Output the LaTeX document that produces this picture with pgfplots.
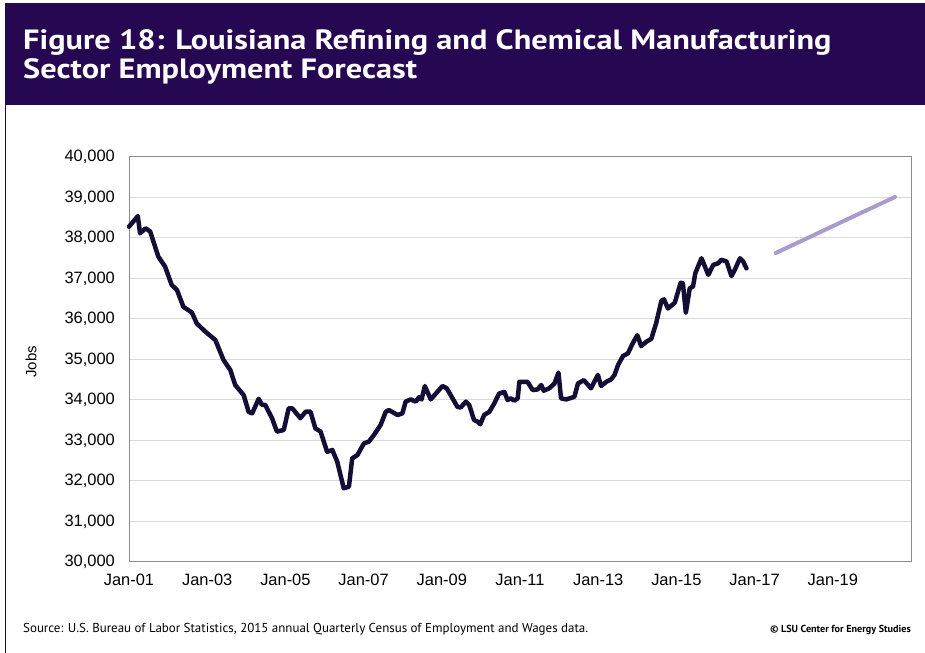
\documentclass[border=0pt]{standalone}
\usepackage{pgfplots}
\pgfplotsset{compat=1.18}
\usepackage{fontspec}
\setmainfont{Liberation Sans}
\newfontfamily\titlefont{PT Sans}
\definecolor{banner}{HTML}{250752}
\definecolor{lineC}{HTML}{140E36}
\definecolor{fcC}{HTML}{A99BCB}
\definecolor{axC}{HTML}{8C8C8C}
\definecolor{gridC}{HTML}{D9D9D9}
\begin{document}
\begin{tikzpicture}
\path[use as bounding box] (0,0) rectangle (925bp,653bp);
\fill[white] (0,0) rectangle (925bp,653bp);
\fill[banner] (5bp,653bp-105bp) rectangle (925bp,653bp-3bp);
\draw[banner,line width=1.2bp] (5.6bp,0) -- (5.6bp,653bp-3bp);
\node[anchor=base west,inner sep=0pt,text=white,font=\titlefont\bfseries\fontsize{28}{30}\selectfont] at (23bp,653bp-50bp) {\scalebox{1.16}[1]{Figure 18: Louisiana Refining and Chemical Manufacturing}};
\node[anchor=base west,inner sep=0pt,text=white,font=\titlefont\bfseries\fontsize{28}{30}\selectfont] at (23bp,653bp-79bp) {\scalebox{1.16}[1]{Sector Employment Forecast}};
\begin{axis}[
  at={(129bp,91bp)}, anchor=south west,
  width=782bp, height=405bp, scale only axis,
  xmin=0, xmax=240, ymin=30000, ymax=40000,
  ytick={30000,31000,...,40000},
  xtick={0,24,...,216},
  xticklabels={Jan-01,Jan-03,Jan-05,Jan-07,Jan-09,Jan-11,Jan-13,Jan-15,Jan-17,Jan-19},
  scaled y ticks=false,
  /pgf/number format/.cd, 1000 sep={,}, assume math mode=true,
  /pgfplots/.cd,
  major tick length=0pt,
  axis line style={axC, line width=1bp},
  ymajorgrids, grid style={gridC, line width=1bp},
  yticklabel style={font=\fontsize{16.5}{18}\selectfont, inner sep=0pt, xshift=-14bp},
  xticklabel style={font=\fontsize{16.5}{18}\selectfont, inner sep=0pt, yshift=-12bp},
  clip=false,
]
\addplot[lineC, line width=4.5bp, line join=round, line cap=round] coordinates {
(0,38280) (2.7,38540) (3.4,38115) (5.1,38240) (6.5,38160) (9.0,37540) (11.1,37290)
(13.1,36840) (14.7,36720) (16.7,36300) (19.3,36160) (20.8,35890) (23.4,35690)
(26.5,35480) (29.0,34990) (31.1,34740) (32.6,34370) (35.2,34120) (36.7,33710)
(37.8,33670) (39.8,34030) (40.8,33880) (41.8,33880) (43.9,33550) (45.4,33220)
(47.5,33260) (49.0,33795) (50.1,33795) (52.6,33550) (54.2,33710) (55.7,33710)
(57.2,33300) (58.8,33220) (60.8,32720) (62.4,32765) (63.9,32480) (65.9,31820)
(67.5,31860) (68.5,32560) (70.1,32640) (72.1,32930) (73.6,32970) (75.2,33140)
(77.2,33380) (78.8,33710) (79.8,33750) (82.4,33630) (83.9,33670) (84.9,33960)
(86.5,34015) (88.0,33960) (89.0,34070) (89.8,34015) (90.8,34345) (92.6,34015)
(94.2,34160) (96.2,34345) (97.5,34290) (99.3,34040) (100.8,33830) (101.8,33815)
(103.4,33960) (104.4,33880) (105.9,33505) (107.0,33465) (107.8,33400) (109.0,33630)
(110.6,33710) (112.1,33915) (113.6,34160) (115.2,34200) (116.2,34000) (117.2,34040)
(118.2,33985) (119.3,34040) (119.8,34450) (122.3,34450) (123.9,34245) (125.4,34260)
(126.5,34370) (127.3,34230) (129.0,34290) (130.6,34410) (131.8,34675) (132.6,34040)
(134.2,34015) (135.2,34040) (136.7,34080) (137.8,34410) (139.6,34490) (141.8,34290)
(143.9,34620) (144.9,34345) (146.5,34450) (148.0,34510) (149.0,34620) (150.1,34865)
(151.6,35085) (153.1,35150) (154.7,35415) (156.0,35600) (157.2,35330) (158.8,35440)
(160.3,35510) (161.8,35900) (163.4,36450) (164.2,36485) (165.4,36260) (167.5,36400)
(169.3,36895) (170.0,36880) (170.9,36155) (172.1,36760) (173.1,36800) (173.8,37130)
(175.7,37500) (177.8,37090) (179.3,37335) (180.8,37375) (181.8,37460) (183.4,37420)
(184.9,37060) (185.9,37210) (187.5,37500) (188.5,37420) (189.5,37250)
};
\addplot[fcC, line width=4bp, line cap=round] coordinates {
(198.5,37630) (210,38065) (222,38520) (235.1,39012)
};
\end{axis}
\node[rotate=90,font=\fontsize{15}{17}\selectfont,inner sep=0pt] at (31bp,653bp-362bp) {Jobs};
\node[anchor=base west,inner sep=0pt,font=\titlefont\fontsize{13}{15}\selectfont] at (23bp,653bp-632bp) {Source: U.S. Bureau of Labor Statistics, 2015 annual Quarterly Census of Employment and Wages data.};
\node[anchor=base east,inner sep=0pt,font=\titlefont\bfseries\fontsize{10.2}{12}\selectfont] at (911bp,653bp-632bp) {© LSU Center for Energy Studies};
\end{tikzpicture}
\end{document}
